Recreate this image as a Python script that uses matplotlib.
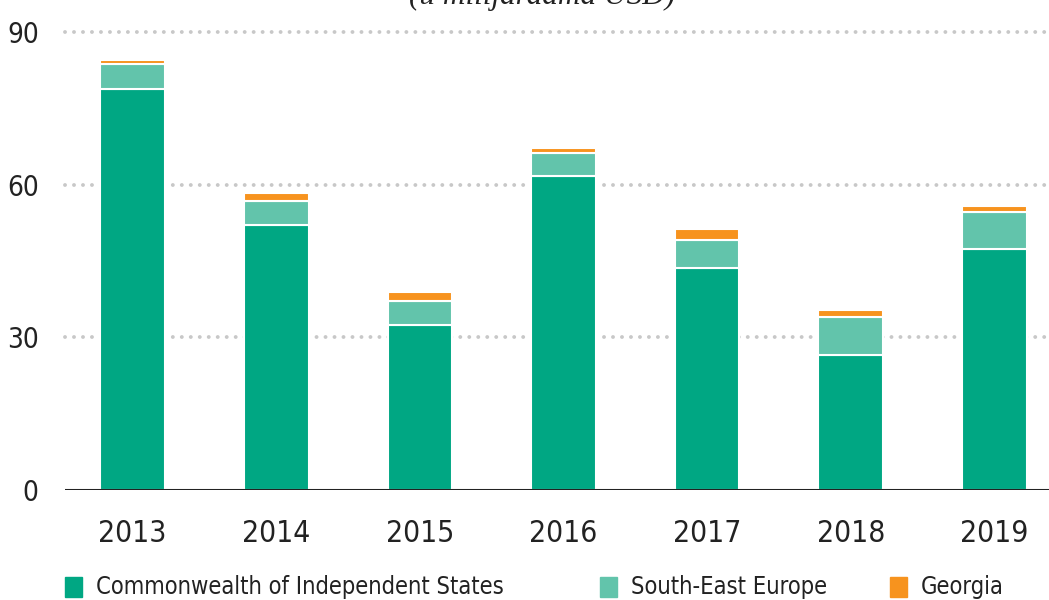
import matplotlib
matplotlib.use("Agg")
import matplotlib.pyplot as plt
from matplotlib.patches import Rectangle

years = ["2013", "2014", "2015", "2016", "2017", "2018", "2019"]
cis = [78.8, 52.1, 32.4, 61.7, 43.6, 26.5, 47.4]
see = [4.9, 4.7, 4.7, 4.5, 5.5, 7.5, 7.2]
georgia = [0.8, 1.6, 1.8, 1.0, 2.2, 1.4, 1.2]
yticks = [0, 30, 60, 90]

c_cis = "#00a783"
c_see = "#62c4ab"
c_geo = "#f7931e"
txt = "#222222"

plt.rcParams["font.family"] = ["DejaVu Sans"]
plt.rcParams["font.stretch"] = "condensed"

W, H = 1049, 600
fig = plt.figure(figsize=(W / 100, H / 100), dpi=100)
ax = fig.add_axes([0.062, 0.1833, 0.938, 0.7804])

x = list(range(len(years)))
w = 0.45
ax.bar(x, cis, w, color=c_cis, edgecolor="white", linewidth=1.5, zorder=3)
ax.bar(x, see, w, bottom=cis, color=c_see, edgecolor="white", linewidth=1.5, zorder=3)
bot2 = [a + b for a, b in zip(cis, see)]
ax.bar(x, georgia, w, bottom=bot2, color=c_geo, edgecolor="white", linewidth=1.5, zorder=3)

# dotted grid lines
for v in yticks[1:]:
    ax.axhline(v, color="#c8c8c8", linestyle=(0, (0.01, 2.3)), linewidth=2.8,
               dash_capstyle="round", zorder=1, clip_on=False)
ax.axhline(0, color=txt, linewidth=2.2, zorder=4)

ax.set_xlim(-0.47, 6.38)
ax.set_ylim(0, 92)
ax.set_yticks(yticks)
ax.set_xticks(x)
ax.set_xticklabels(years)
ax.tick_params(axis="both", length=0, labelsize=20, colors=txt)
ax.tick_params(axis="x", labelsize=21.5, pad=21)
ax.tick_params(axis="y", pad=19)
for s in ax.spines.values():
    s.set_visible(False)

fig.text(0.517, 0.993, "(u milijardama USD)", ha="center", va="baseline",
         fontsize=22.5, style="italic", family="Liberation Serif", color=txt)

# legend drawn by hand
labels = ["Commonwealth of Independent States", "South-East Europe", "Georgia"]
colors = [c_cis, c_see, c_geo]
sq_x = [65, 600, 890]
for px, lab, col in zip(sq_x, labels, colors):
    fig.add_artist(Rectangle((px / W, 1 - 597 / H), 17 / W, 20 / H,
                             transform=fig.transFigure, color=col))
    fig.text((px + 31) / W, 1 - 587 / H, lab, ha="left", va="center",
             fontsize=17, color=txt)

fig.savefig("out.png", dpi=100)
